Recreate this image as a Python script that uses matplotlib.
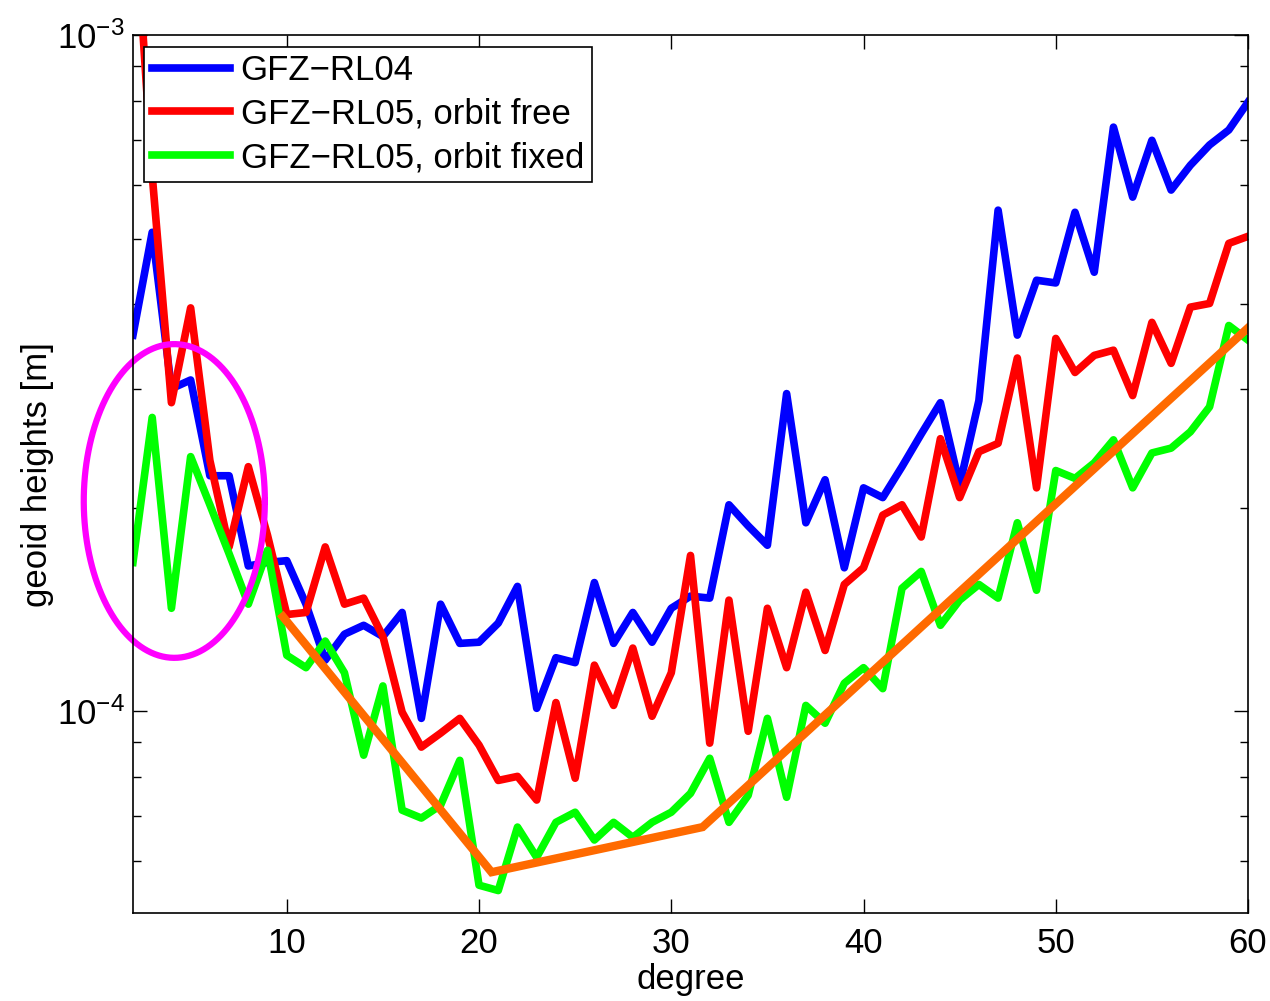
import numpy as np
import matplotlib
matplotlib.use("Agg")
import matplotlib.pyplot as plt
from matplotlib.ticker import LogLocator, NullFormatter

plt.rcParams['font.family'] = ['Liberation Sans', 'DejaVu Sans']
plt.rcParams['mathtext.fontset'] = 'custom'
plt.rcParams['mathtext.rm'] = 'Liberation Sans'
plt.rcParams['mathtext.it'] = 'Liberation Sans'

degree = np.arange(2, 61)

# values in units of 1e-4 m
rl04 = [3.60, 5.11, 3.00, 3.09, 2.23, 2.23, 1.64, 1.66, 1.67, 1.44,
        1.19, 1.30, 1.34, 1.29, 1.40, 0.976, 1.44, 1.26, 1.265, 1.35,
        1.53, 1.01, 1.20, 1.18, 1.55, 1.26, 1.40, 1.265, 1.42, 1.48,
        1.47, 2.02, 1.88, 1.76, 2.95, 1.90, 2.20, 1.63, 2.14, 2.07,
        2.30, 2.57, 2.86, 2.16, 2.88, 5.51, 3.60, 4.34, 4.30, 5.47,
        4.46, 7.31, 5.76, 6.99, 5.90, 6.42, 6.88, 7.24, 7.96]

rl05_free = [17.0, 6.21, 2.86, 3.95, 2.35, 1.75, 2.30, 1.82, 1.39, 1.40,
             1.75, 1.44, 1.47, 1.29, 0.997, 0.885, 0.928, 0.976, 0.891, 0.790,
             0.801, 0.739, 1.03, 0.796, 1.17, 1.02, 1.24, 0.983, 1.14, 1.70,
             0.897, 1.46, 0.934, 1.42, 1.16, 1.50, 1.23, 1.54, 1.63, 1.95,
             2.02, 1.81, 2.53, 2.07, 2.42, 2.49, 3.33, 2.14, 3.56, 3.17,
             3.36, 3.42, 2.93, 3.76, 3.27, 3.96, 4.01, 4.92, 5.04]

rl05_fixed = [1.66, 2.72, 1.42, 2.38, 2.02, 1.71, 1.44, 1.73, 1.21, 1.16,
              1.27, 1.14, 0.861, 1.09, 0.714, 0.695, 0.726, 0.846, 0.553, 0.543,
              0.674, 0.608, 0.685, 0.709, 0.645, 0.685, 0.651, 0.685, 0.709, 0.756,
              0.852, 0.685, 0.751, 0.976, 0.746, 1.02, 0.960, 1.10, 1.16, 1.08,
              1.52, 1.61, 1.34, 1.46, 1.54, 1.47, 1.90, 1.51, 2.27, 2.21,
              2.33, 2.52, 2.14, 2.41, 2.45, 2.59, 2.82, 3.72, 3.54]

# orange trend segments
trend_deg = [9.8, 20.65, 31.63, 60]
trend_val = [1.38, 0.578, 0.674, 3.69]

# magenta ellipse (degree centre/half-width, log10 centre/half-height)
ell_cx, ell_a = 4.15, 4.71
ell_cy, ell_b = -3.689, 0.232

scale = 1e-4
fs = 25

fig = plt.figure(figsize=(12.7, 10.01), dpi=100)
ax = fig.add_axes([0.1047, 0.0879, 0.878, 0.877])

ax.semilogy(degree, np.array(rl04) * scale, color=(0, 0, 1), lw=5.5, label='GFZ\u2212RL04')
ax.semilogy(degree, np.array(rl05_free) * scale, color=(1, 0, 0), lw=5.5,
            label='GFZ\u2212RL05, orbit free')
ax.semilogy(degree, np.array(rl05_fixed) * scale, color=(0, 1, 0), lw=5.5,
            label='GFZ\u2212RL05, orbit fixed')
ax.semilogy(trend_deg, np.array(trend_val) * scale, color='#ff6a00', lw=6,
            solid_joinstyle='miter')

t = np.linspace(0, 2 * np.pi, 300)
ax.plot(ell_cx + ell_a * np.cos(t), 10 ** (ell_cy + ell_b * np.sin(t)),
        color=(1, 0, 1), lw=4.5, clip_on=False)

ax.set_xlim(2, 60)
ax.set_ylim(5.03e-5, 1e-3)
ax.set_xticks([10, 20, 30, 40, 50, 60])
ax.yaxis.set_major_locator(LogLocator(base=10, numticks=10))
ax.yaxis.set_minor_locator(LogLocator(base=10, subs=np.arange(2, 10), numticks=20))
ax.yaxis.set_minor_formatter(NullFormatter())

ax.tick_params(which='both', direction='in', top=True, right=True, labelsize=fs)
ax.tick_params(which='major', length=10, width=1)
ax.tick_params(which='minor', length=6, width=1)
ax.tick_params(axis='x', pad=10)
ax.tick_params(axis='y', pad=6)
for s in ax.spines.values():
    s.set_linewidth(1.2)

ax.set_xlabel('degree', fontsize=fs, labelpad=2)
ax.set_ylabel('geoid heights [m]', fontsize=fs, labelpad=2)

leg = ax.legend(loc='upper left', fontsize=fs, handlelength=2.25, handletextpad=0.3,
                borderaxespad=0.33, borderpad=0.22, labelspacing=0.3, fancybox=False,
                framealpha=1, edgecolor='black')
leg.get_frame().set_linewidth(1.2)

fig.savefig('out.png', dpi=100)
